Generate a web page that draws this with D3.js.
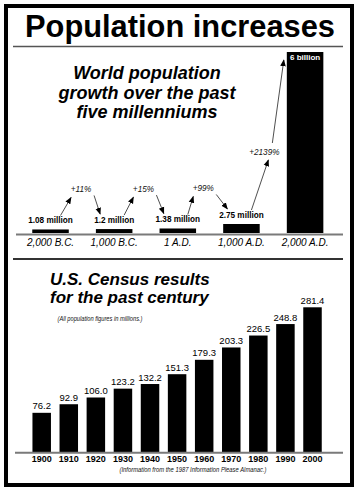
<!DOCTYPE html>
<html>
<head>
<meta charset="utf-8">
<script src="https://cdn.jsdelivr.net/npm/d3@7"></script>
<style>
  html, body { margin: 0; padding: 0; background: #fff; }
  svg { display: block; }
  text { font-family: "Liberation Sans", Arial, Helvetica, sans-serif; }
</style>
</head>
<body>
<svg id="chart" width="359" height="493"></svg>
<script>
// ---- Data ----
const worldEras = ["2,000 B.C.", "1,000 B.C.", "1 A.D.", "1,000 A.D.", "2,000 A.D."];
const worldPopMillions = [1.08, 1.2, 1.38, 2.75, 6000];
const worldPopLabels = ["1.08 million", "1.2 million", "1.38 million", "2.75 million", "6 billion"];
const worldGrowth = ["+11%", "+15%", "+99%", "+2139%"];

const censusYears = ["1900", "1910", "1920", "1930", "1940", "1950", "1960", "1970", "1980", "1990", "2000"];
const censusPop = [76.2, 92.9, 106.0, 123.2, 132.2, 151.3, 179.3, 203.3, 226.5, 248.8, 281.4];

const svg = d3.select("#chart");
const FONT = '"Liberation Sans", Arial, Helvetica, sans-serif';

// Arrow marker
const defs = svg.append("defs");
defs.append("marker")
  .attr("id", "arrow")
  .attr("viewBox", "0 0 10 10")
  .attr("refX", 9).attr("refY", 5)
  .attr("markerWidth", 7).attr("markerHeight", 7)
  .attr("markerUnits", "userSpaceOnUse")
  .attr("orient", "auto")
  .append("path").attr("d", "M0,1 L10,5 L0,9 Z").attr("fill", "#000");

// Background + border
svg.append("rect").attr("width", 359).attr("height", 493).attr("fill", "#fff");
svg.append("rect").attr("x", 6).attr("y", 6).attr("width", 346).attr("height", 479)
  .attr("fill", "none").attr("stroke", "#000").attr("stroke-width", 4);

// Title
svg.append("text").attr("x", 180).attr("y", 37).attr("text-anchor", "middle")
  .attr("font-size", 31).attr("font-weight", "bold").attr("fill", "#000")
  .attr("textLength", 310).attr("lengthAdjust", "spacingAndGlyphs")
  .text("Population increases");
svg.append("line").attr("x1", 13).attr("x2", 343).attr("y1", 46.5).attr("y2", 46.5)
  .attr("stroke", "#555").attr("stroke-width", 1.5);

// ---- Top chart: world population ----
const subLines = ["World population", "growth over the past", "five millenniums"];
svg.append("g").selectAll("text").data(subLines).join("text")
  .attr("x", 147).attr("y", (d, i) => 79 + i * 19.5)
  .attr("text-anchor", "middle").attr("font-size", 18)
  .attr("font-weight", "bold").attr("font-style", "italic").attr("fill", "#000")
  .text(d => d);

const xW = d3.scaleBand().domain(worldEras).range([18.7, 336.9])
  .paddingInner(0.426).paddingOuter(0.213);
const yW = d3.scaleLinear().domain([0, 2.75, 6000]).range([233, 224, 52]);
const cW = i => xW(worldEras[i]) + xW.bandwidth() / 2;

const gW = svg.append("g");
gW.selectAll("rect").data(worldPopMillions).join("rect")
  .attr("x", (d, i) => xW(worldEras[i]))
  .attr("width", xW.bandwidth())
  .attr("y", d => yW(d))
  .attr("height", d => yW(0) - yW(d))
  .attr("fill", "#000");

svg.append("line").attr("x1", 16).attr("x2", 343).attr("y1", 234.5).attr("y2", 234.5)
  .attr("stroke", "#7a7a7a").attr("stroke-width", 2);

const axW = svg.append("g").attr("transform", "translate(0,237)")
  .call(d3.axisBottom(xW).tickSize(0).tickPadding(2));
axW.select(".domain").remove();
axW.selectAll("text").attr("font-family", FONT).attr("font-size", 10)
  .attr("font-style", "italic").attr("fill", "#000");

// value labels
const labelY = i => yW(worldPopMillions[i]) - 6;
gW.selectAll("text.val").data(worldPopMillions.slice(0, 4)).join("text")
  .attr("class", "val")
  .attr("x", (d, i) => cW(i)).attr("y", (d, i) => labelY(i))
  .attr("text-anchor", "middle").attr("font-size", 8.2).attr("font-weight", "bold")
  .attr("fill", "#000").text((d, i) => worldPopLabels[i]);
gW.append("text")
  .attr("x", cW(4)).attr("y", yW(worldPopMillions[4]) + 8)
  .attr("text-anchor", "middle").attr("font-size", 8).attr("font-weight", "bold")
  .attr("fill", "#fff").text(worldPopLabels[4]);

// growth annotations
const pctFrac = [0.48, 0.46, 0.4, 0.36];
const pctRaise = [31, 31, 31, 63];
worldGrowth.forEach((g, i) => {
  const px = cW(i) + (cW(i + 1) - cW(i)) * pctFrac[i];
  const py = labelY(i) - pctRaise[i];
  svg.append("text").attr("x", px).attr("y", py).attr("text-anchor", "middle")
    .attr("font-size", 8.2).attr("font-style", "italic").attr("fill", "#111").text(g);
  // up arrow from bar i label to percent
  const upEndX = i === 3 ? px + 4 : px - 10;
  svg.append("line")
    .attr("x1", cW(i) + 10).attr("y1", labelY(i) - 8)
    .attr("x2", upEndX).attr("y2", py + 5)
    .attr("stroke", "#222").attr("stroke-width", 0.8).attr("marker-end", "url(#arrow)");
  if (i < 3) {
    svg.append("line")
      .attr("x1", px + 13).attr("y1", py + 3)
      .attr("x2", cW(i + 1) - 14).attr("y2", labelY(i + 1) - 9)
      .attr("stroke", "#222").attr("stroke-width", 0.8).attr("marker-end", "url(#arrow)");
  } else {
    svg.append("line")
      .attr("x1", px + 8).attr("y1", py - 12)
      .attr("x2", xW(worldEras[4]) - 3).attr("y2", yW(worldPopMillions[4]) + 8)
      .attr("stroke", "#222").attr("stroke-width", 0.8).attr("marker-end", "url(#arrow)");
  }
});

// separator
svg.append("line").attr("x1", 13).attr("x2", 343).attr("y1", 259).attr("y2", 259)
  .attr("stroke", "#333").attr("stroke-width", 2);

// ---- Bottom chart: US census ----
const cenTitle = ["U.S. Census results", "for the past century"];
svg.append("g").selectAll("text").data(cenTitle).join("text")
  .attr("x", 50).attr("y", (d, i) => 285 + i * 17.5)
  .attr("font-size", 17).attr("font-weight", "bold").attr("font-style", "italic")
  .attr("fill", "#000").text(d => d);
svg.append("text").attr("x", 100).attr("y", 320.5).attr("text-anchor", "middle")
  .attr("font-size", 8).attr("font-style", "italic").attr("fill", "#111")
  .attr("textLength", 85).attr("lengthAdjust", "spacingAndGlyphs")
  .text("(All population figures in millions.)");

const xC = d3.scaleBand().domain(censusYears).range([28.16, 326.04])
  .paddingInner(0.317).paddingOuter(0.1585);
const yC = d3.scaleLinear().domain([0, 281.4]).range([452, 307.3]);

const gC = svg.append("g");
gC.selectAll("rect").data(censusPop).join("rect")
  .attr("x", (d, i) => xC(censusYears[i]))
  .attr("width", xC.bandwidth())
  .attr("y", d => yC(d))
  .attr("height", d => yC(0) - yC(d))
  .attr("fill", "#000");
gC.selectAll("text").data(censusPop).join("text")
  .attr("x", (d, i) => xC(censusYears[i]) + xC.bandwidth() / 2)
  .attr("y", d => yC(d) - 3.5)
  .attr("text-anchor", "middle").attr("font-size", 9.5).attr("fill", "#000")
  .text(d => d.toFixed(1));

svg.append("line").attr("x1", 15).attr("x2", 343).attr("y1", 452.8).attr("y2", 452.8)
  .attr("stroke", "#7a7a7a").attr("stroke-width", 2);

const axC = svg.append("g").attr("transform", "translate(0,455)")
  .call(d3.axisBottom(xC).tickSize(0).tickPadding(1));
axC.select(".domain").remove();
axC.selectAll("text").attr("font-family", FONT).attr("font-size", 9)
  .attr("font-weight", "bold").attr("fill", "#000");

svg.append("text").attr("x", 193).attr("y", 472).attr("text-anchor", "middle")
  .attr("font-size", 7.5).attr("font-style", "italic").attr("fill", "#111")
  .attr("textLength", 147).attr("lengthAdjust", "spacingAndGlyphs")
  .text("(Information from the 1987 Information Please Almanac.)");
</script>
</body>
</html>
